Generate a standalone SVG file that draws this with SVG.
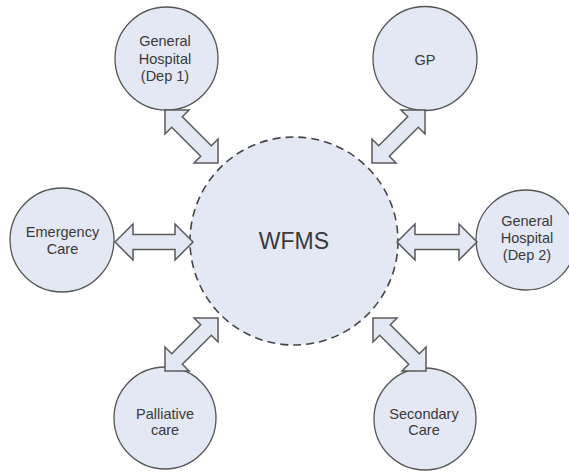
<svg xmlns="http://www.w3.org/2000/svg" width="569" height="472" viewBox="0 0 569 472">
  <style>
    .node { fill: #e3e8f4; stroke: #555; stroke-width: 1.3; }
    .hub { fill: #e3e8f4; stroke: #444; stroke-width: 1.6; stroke-dasharray: 8 5; }
    .lbl { font-family: "Liberation Sans", Arial, sans-serif; font-size: 14.5px; fill: #3a3a3a; text-anchor: middle; }
    .big { font-size: 23px; }
    .arrow { fill: #e3e8f4; stroke: #5a5a5a; stroke-width: 1.5; stroke-linejoin: miter; }
  </style>
  <rect width="569" height="472" fill="#fff"/>

  <g id="wfms">
    <circle class="hub" cx="294" cy="241" r="104"/>
    <text class="lbl big" x="294" y="249">WFMS</text>
  </g>

  <g id="gen-hospital-dep1">
    <circle class="node" cx="166.5" cy="58.5" r="51.5"/>
    <text class="lbl" x="165" y="46">General</text>
    <text class="lbl" x="165" y="63.5">Hospital</text>
    <text class="lbl" x="165" y="81">(Dep 1)</text>
  </g>

  <g id="gp">
    <circle class="node" cx="425" cy="58.5" r="52"/>
    <text class="lbl" x="425" y="65">GP</text>
  </g>

  <g id="emergency-care">
    <circle class="node" cx="62" cy="240" r="52"/>
    <text class="lbl" x="62.5" y="237">Emergency</text>
    <text class="lbl" x="62.5" y="254">Care</text>
  </g>

  <g id="gen-hospital-dep2">
    <circle class="node" cx="526" cy="240" r="50"/>
    <text class="lbl" x="527" y="226">General</text>
    <text class="lbl" x="527" y="243">Hospital</text>
    <text class="lbl" x="527" y="260">(Dep 2)</text>
  </g>

  <g id="palliative-care">
    <circle class="node" cx="165" cy="418" r="51"/>
    <text class="lbl" x="165" y="419">Palliative</text>
    <text class="lbl" x="165" y="435">care</text>
  </g>

  <g id="secondary-care">
    <circle class="node" cx="425" cy="419" r="51"/>
    <text class="lbl" x="424" y="419">Secondary</text>
    <text class="lbl" x="424" y="435">Care</text>
  </g>

  <!-- double-headed block arrows between WFMS and each partner -->
  <g id="connectors">
    <path class="arrow" transform="translate(115,242)" d="M0,0 L18,-18 L18,-7.5 L60,-7.5 L60,-18 L78,0 L60,18 L60,7.5 L18,7.5 L18,18 Z"/>
    <path class="arrow" transform="translate(397,242)" d="M0,0 L18,-18 L18,-7.5 L62,-7.5 L62,-18 L80,0 L62,18 L62,7.5 L18,7.5 L18,18 Z"/>
    <path class="arrow" transform="translate(165,110) rotate(45)" d="M0,0 L17,-17 L17,-7.5 L58,-7.5 L58,-17 L75,0 L58,17 L58,7.5 L17,7.5 L17,17 Z"/>
    <path class="arrow" transform="translate(372,163) rotate(-45)" d="M0,0 L17,-17 L17,-7.5 L58,-7.5 L58,-17 L75,0 L58,17 L58,7.5 L17,7.5 L17,17 Z"/>
    <path class="arrow" transform="translate(165,371) rotate(-45)" d="M0,0 L17,-17 L17,-7.5 L58,-7.5 L58,-17 L75,0 L58,17 L58,7.5 L17,7.5 L17,17 Z"/>
    <path class="arrow" transform="translate(373,318) rotate(45)" d="M0,0 L17,-17 L17,-7.5 L58,-7.5 L58,-17 L75,0 L58,17 L58,7.5 L17,7.5 L17,17 Z"/>
  </g>
</svg>
